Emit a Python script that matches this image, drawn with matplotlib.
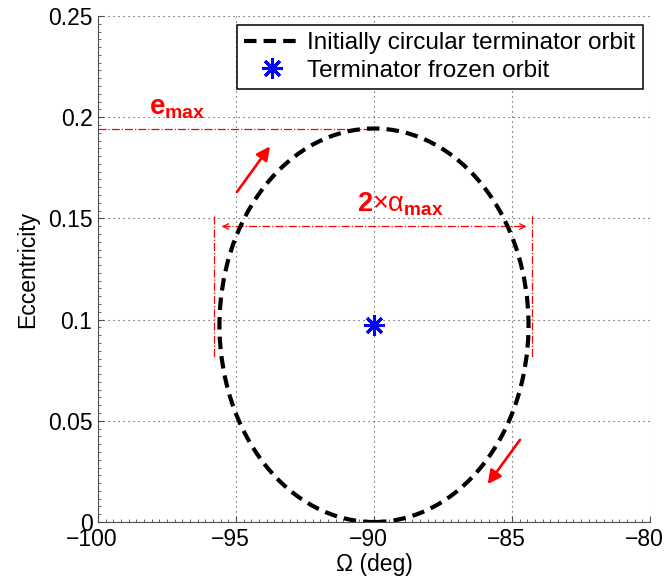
import matplotlib.pyplot as plt
from matplotlib.patches import Ellipse
from matplotlib.ticker import MultipleLocator
from matplotlib.transforms import ScaledTranslation

plt.rcParams['font.family'] = ['Liberation Sans', 'DejaVu Sans']
plt.rcParams['mathtext.fontset'] = 'custom'
plt.rcParams['mathtext.rm'] = 'Liberation Sans'
plt.rcParams['mathtext.bf'] = 'Liberation Sans:bold'
plt.rcParams['mathtext.it'] = 'Liberation Sans:italic'

# Orbit ellipse
orbit_center = [-90.0, 0.0972]
orbit_width = 11.2      # deg
orbit_height = 0.1944   # eccentricity

# Frozen orbit point
frozen_omega = [-90.0]
frozen_ecc = [0.0975]

# e_max guide line
emax_x = [-100.0, -90.0]
emax_y = [0.1944, 0.1944]

# 2 x alpha_max guide lines
alpha_y = 0.146
alpha_left = -95.79
alpha_right = -84.26
alpha_tip_left = -95.52
alpha_tip_right = -84.47
vert_y = [0.151, 0.081]

# direction arrows (tail, head)
arrow_up = [(-94.97, 0.163), (-93.77, 0.1856)]
arrow_down = [(-84.71, 0.0406), (-85.88, 0.0187)]

fs = 16.5
red = '#ff0000'
dash = (0, (3.0, 1.7))

fig = plt.figure(figsize=(6.65, 5.83), dpi=100)
ax = fig.add_axes([0.1474, 0.1046, 0.83, 0.868])

# orbit
ell = Ellipse(orbit_center, orbit_width, orbit_height, fill=False,
              edgecolor='k', linewidth=3, linestyle=dash, zorder=3)
ell.set_capstyle('butt')
ax.add_patch(ell)
ax.plot([], [], color='k', lw=3, linestyle=dash, dash_capstyle='butt',
        label='Initially circular terminator orbit')
ax.plot(frozen_omega, frozen_ecc, linestyle='none', marker=(8, 2, 0),
        markersize=15, markeredgewidth=2.2, color='#0000ff',
        label='Terminator frozen orbit', zorder=4)

# guide lines
ax.plot(emax_x, emax_y, color=red, lw=0.9, linestyle='-.', zorder=2)
ax.plot([alpha_tip_left, alpha_tip_right], [alpha_y, alpha_y], color=red,
        lw=0.9, linestyle='-.', zorder=2)
ax.plot([alpha_left, alpha_left], vert_y, color=red, lw=0.9, linestyle='-.', zorder=2)
ax.plot([alpha_right, alpha_right], vert_y, color=red, lw=0.9, linestyle='-.', zorder=2)
ax.annotate('', xy=(alpha_tip_left, alpha_y), xytext=(alpha_tip_left + 0.25, alpha_y),
            arrowprops=dict(arrowstyle='->', color=red, lw=0.9,
                            mutation_scale=10, shrinkA=0, shrinkB=0))
ax.annotate('', xy=(alpha_tip_right, alpha_y), xytext=(alpha_tip_right - 0.25, alpha_y),
            arrowprops=dict(arrowstyle='->', color=red, lw=0.9,
                            mutation_scale=10, shrinkA=0, shrinkB=0))

# direction arrows
for tail, head in [arrow_up, arrow_down]:
    ax.annotate('', xy=head, xytext=tail,
                arrowprops=dict(arrowstyle='-|>', color=red, lw=1.9,
                                mutation_scale=20, shrinkA=0, shrinkB=0))

ax.text(-98.15, 0.2015, r'$\mathbf{e}_{\mathbf{max}}$', color=red, fontsize=20)
ax.text(-90.62, 0.1535, r'$\mathbf{2}{\times}\mathrm{\alpha}_{\mathbf{max}}$',
        color=red, fontsize=19.5)

ax.set_xlim(-100, -80)
ax.set_ylim(0, 0.25)
ax.set_xticks([-100, -95, -90, -85, -80])
ax.set_xticklabels(['\u2212100', '\u221295', '\u221290', '\u221285', '\u221280'])
ax.set_yticks([0, 0.05, 0.1, 0.15, 0.2, 0.25])
ax.set_yticklabels(['0', '0.05', '0.1', '0.15', '0.2', '0.25'])
ax.xaxis.set_minor_locator(MultipleLocator(5 / 18))
ax.yaxis.set_minor_locator(MultipleLocator(0.05 / 13))
ax.tick_params(which='both', direction='in', color='0.3', labelsize=fs,
               top=False, right=False)
ax.tick_params(which='major', length=4, width=0.8, pad=4)
ax.tick_params(which='minor', length=2.5, width=0.6)
for side in ['top', 'right']:
    ax.spines[side].set_visible(False)
for side in ['bottom', 'left']:
    ax.spines[side].set_color('0.3')
    ax.spines[side].set_linewidth(0.8)

# digits centred on the tick, minus hanging to the left
shift = ScaledTranslation(-6 / 100, 0, fig.dpi_scale_trans)
for lab in ax.get_xticklabels():
    lab.set_transform(lab.get_transform() + shift)

ax.grid(True, which='major', linestyle=(0, (1, 3.5)), color='0.25', linewidth=0.8)
ax.set_axisbelow(True)

ax.set_xlabel('\u03a9 (deg)', fontsize=fs, labelpad=2)
ax.set_ylabel('Eccentricity', fontsize=fs, labelpad=6)

leg = ax.legend(loc='upper right', bbox_to_anchor=(0.987, 0.982), fontsize=17.5,
                frameon=True, fancybox=False, framealpha=1, edgecolor='k',
                handlelength=2.3, handletextpad=0.3, borderpad=0.3,
                labelspacing=0.22, borderaxespad=0)
leg.get_frame().set_linewidth(1.1)

fig.savefig('out.png', dpi=100)
